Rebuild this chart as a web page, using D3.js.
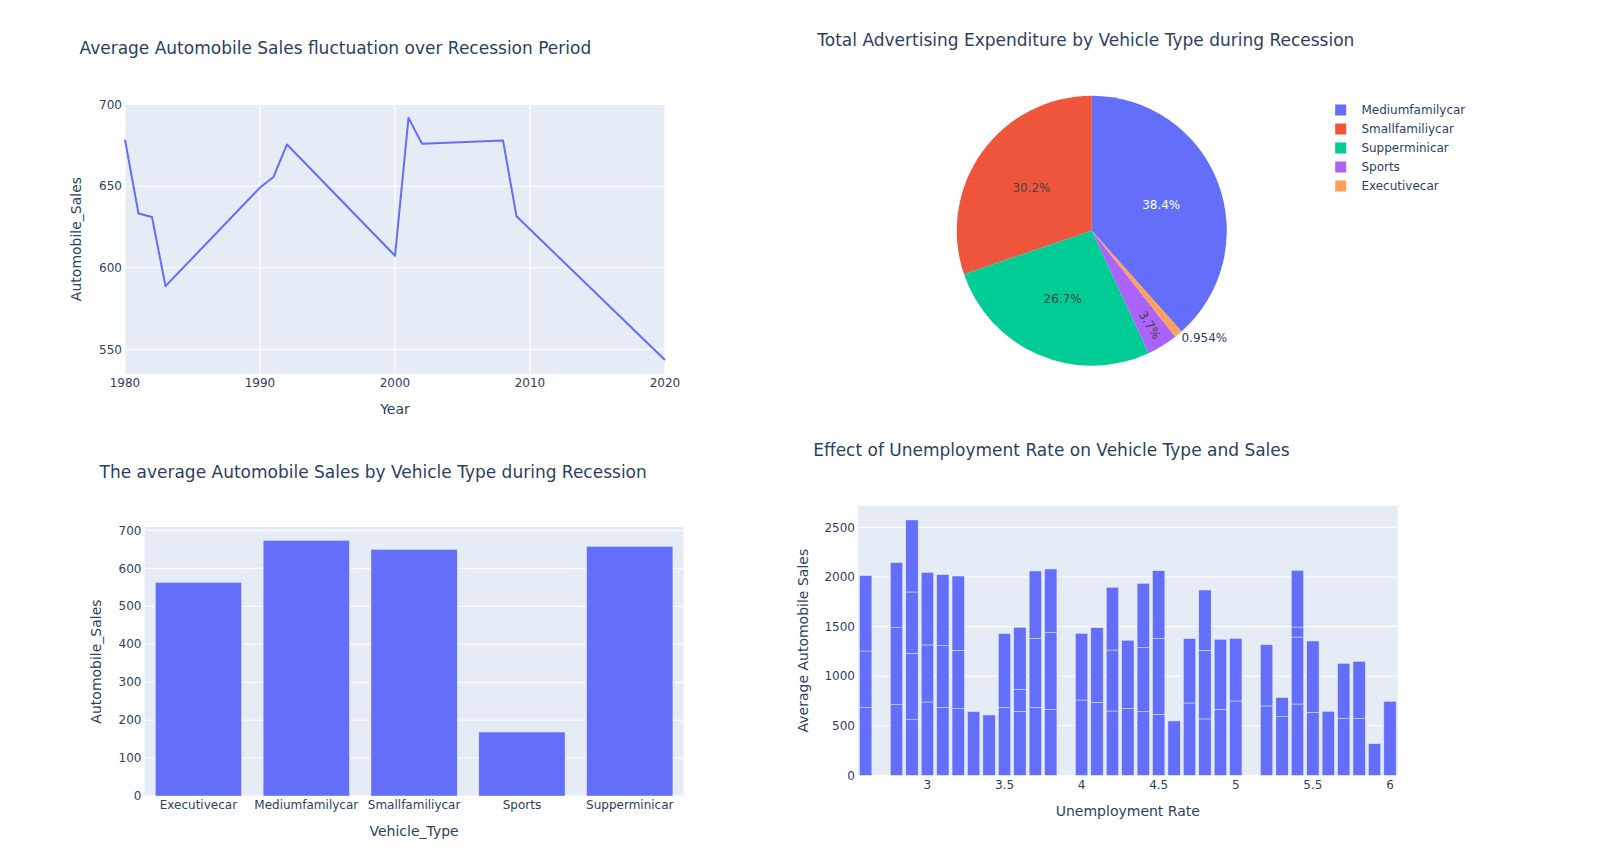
<!DOCTYPE html>
<html><head><meta charset="utf-8">
<script src="https://cdn.jsdelivr.net/npm/d3@7"></script>
<style>body{margin:0;background:#fff}svg{display:block}text{font-family:"DejaVu Sans",Verdana,sans-serif}</style>
</head><body><svg id="c" width="1604" height="858"></svg>
<script>
// ---------- data ----------
const recessionYears = [1980,1981,1982,1983,1990,1991,1992,2000,2001,2002,2008,2009,2020];
const recessionAvgSales = [678.4,633.2,631.1,588.7,649.1,655.6,675.5,607.3,691.8,676.0,678.0,631.5,543.5];
const lineXTicks = [1980,1990,2000,2010,2020];
const lineYTicks = [550,600,650,700];

const pieLabels = ["Mediumfamilycar","Smallfamiliycar","Supperminicar","Sports","Executivecar"];
const pieAdShare = [38.43,30.22,26.70,3.70,0.954];
const pieColors = ["#636EFA","#EF553B","#00CC96","#AB63FA","#FFA15A"];

const vehicleTypes = ["Executivecar","Mediumfamilycar","Smallfamiliycar","Sports","Supperminicar"];
const vehicleAvgSales = [563,673.7,650,168.6,657.8];
const barYTicks = [0,100,200,300,400,500,600,700];

const unemploymentRates = [2.6,2.8,2.9,3.0,3.1,3.2,3.3,3.4,3.5,3.6,3.7,3.8,4.0,4.1,4.2,4.3,4.4,4.5,4.6,4.7,4.8,4.9,5.0,5.2,5.3,5.4,5.5,5.6,5.7,5.8,5.9,6.0];
const salesSegments = [
 [682,571,760],[712,776,656],[561,669,618,726],[739,575,732],[685,622,716],[672,588,749],
 [642],[608],[685,743],[645,219,628],[685,696,679],[662,776,642],
 [759,672],[736,752],[648,615,632],[675,686],[642,645,648],[615,763,685],[548],[729,649],
 [568,692,608],[665,706],[749,632],[699,618],[591,192],[719,675,101,571],[635,719],[645],
 [571,558],[571,578],[319],[746]
];
const stackXTicks = [3,3.5,4,4.5,5,5.5,6];
const stackYTicks = [0,500,1000,1500,2000,2500];

// ---------- styles ----------
const FONT_COLOR = "#2a3f5f", PLOT_BG = "#E5ECF6", BAR = "#636EFA";
const svg = d3.select("#c");
svg.append("rect").attr("width",1604).attr("height",858).attr("fill","#fff");

function title(txt, x, y){
  svg.append("text").attr("x",x).attr("y",y).attr("dy","0.35em")
    .attr("font-size",17).attr("fill",FONT_COLOR).text(txt);
}
function frame(p){
  svg.append("rect").attr("x",p.l).attr("y",p.t).attr("width",p.r-p.l).attr("height",p.b-p.t).attr("fill",PLOT_BG);
}
function yAxis(p, y, ticks, label, labelOffset){
  const g = svg.append("g");
  g.selectAll("line").data(ticks).join("line")
    .attr("x1",p.l).attr("x2",p.r).attr("y1",d=>y(d)).attr("y2",d=>y(d))
    .attr("stroke","#fff").attr("stroke-width",1);
  g.selectAll("text").data(ticks).join("text")
    .attr("x",p.l-3).attr("y",d=>y(d)).attr("dy","0.35em").attr("text-anchor","end")
    .attr("font-size",12).attr("fill",FONT_COLOR).text(d=>d);
  svg.append("text").attr("transform",`translate(${p.l-labelOffset},${(p.t+p.b)/2}) rotate(-90)`)
    .attr("text-anchor","middle").attr("dy","0.35em").attr("font-size",14).attr("fill",FONT_COLOR).text(label);
}
function xLabels(p, pos, ticks, fmt, label){
  svg.append("g").selectAll("text").data(ticks).join("text")
    .attr("x",d=>pos(d)).attr("y",p.b+9).attr("dy","0.35em").attr("text-anchor","middle")
    .attr("font-size",12).attr("fill",FONT_COLOR).text(fmt);
  svg.append("text").attr("x",(p.l+p.r)/2).attr("y",p.b+35.5).attr("dy","0.35em")
    .attr("text-anchor","middle").attr("font-size",14).attr("fill",FONT_COLOR).text(label);
}

// ---------- 1. line chart ----------
{
  const p = {l:125, r:665, t:104, b:374};
  frame(p);
  const x = d3.scaleLinear().domain([1980,2020]).range([p.l,p.r]);
  const y = d3.scaleLinear().domain([534.9,700.3]).range([p.b,p.t]);
  svg.append("g").selectAll("line").data(lineXTicks).join("line")
    .attr("x1",d=>x(d)).attr("x2",d=>x(d)).attr("y1",p.t).attr("y2",p.b).attr("stroke","#fff");
  yAxis(p, y, lineYTicks, "Automobile_Sales", 48.5);
  xLabels(p, x, lineXTicks, d=>d, "Year");
  const line = d3.line().x((d,i)=>x(recessionYears[i])).y(d=>y(d));
  svg.append("path").datum(recessionAvgSales).attr("d",line).attr("fill","none")
    .attr("stroke",BAR).attr("stroke-width",2).attr("stroke-linejoin","round");
  title("Average Automobile Sales fluctuation over Recession Period", 79.5, 48);
}

// ---------- 2. pie chart ----------
{
  const cx = 1091.8, cy = 230.7, R = 135;
  const total = d3.sum(pieAdShare);
  const first = pieAdShare[0]/total*2*Math.PI;
  const pie = d3.pie().sort(null).startAngle(first).endAngle(first-2*Math.PI);
  const arcs = pie(pieAdShare);
  const arc = d3.arc().innerRadius(0).outerRadius(R);
  const g = svg.append("g").attr("transform",`translate(${cx},${cy})`);
  g.selectAll("path").data(arcs).join("path").attr("d",arc).attr("fill",(d,i)=>pieColors[i]);
  const fmt = v => d3.format(".3~r")(v) + "%";
  function textColor(c){ const r=d3.rgb(c); return (r.r*299+r.g*587+r.b*114)/1000 < 128 ? "#fff" : "#444"; }
  arcs.forEach((a,i)=>{
    const span = Math.abs(a.endAngle-a.startAngle);
    const mid = (a.startAngle+a.endAngle)/2;
    const ux = Math.sin(mid), uy = -Math.cos(mid);
    const pct = fmt(a.value/total*100);
    if (span > 0.5){
      g.append("text").attr("x",ux*R*0.55).attr("y",uy*R*0.55).attr("dy","0.35em")
        .attr("text-anchor","middle").attr("font-size",12).attr("fill",textColor(pieColors[i])).text(pct);
    } else if (span > 0.15){
      let deg = ((mid*180/Math.PI) % 360 + 360) % 360 - 90;
      if (deg > 90) deg -= 180;
      g.append("text").attr("transform",`translate(${ux*R*0.82},${uy*R*0.82}) rotate(${deg})`)
        .attr("dy","0.35em").attr("text-anchor","middle").attr("font-size",12)
        .attr("fill",textColor(pieColors[i])).text(pct);
    } else {
      g.append("text").attr("x",ux*R+(ux>=0?3:-3)).attr("y",uy*R+4).attr("dy","0.35em")
        .attr("text-anchor",ux>=0?"start":"end").attr("font-size",12).attr("fill",FONT_COLOR).text(pct);
    }
  });
  const lg = svg.append("g");
  pieLabels.forEach((lab,i)=>{
    const yy = 110 + i*19;
    lg.append("rect").attr("x",1335.2).attr("y",yy-5.5).attr("width",11).attr("height",11).attr("fill",pieColors[i]);
    lg.append("text").attr("x",1361.4).attr("y",yy).attr("dy","0.35em").attr("font-size",12).attr("fill",FONT_COLOR).text(lab);
  });
  title("Total Advertising Expenditure by Vehicle Type during Recession", 817.3, 40);
}

// ---------- 3. bar chart ----------
{
  const p = {l:144.5, r:683.7, t:527, b:796};
  frame(p);
  const x = d3.scaleBand().domain(vehicleTypes).range([p.l,p.r]).paddingInner(0.2).paddingOuter(0.1);
  const y = d3.scaleLinear().domain([0,709]).range([p.b,p.t]);
  yAxis(p, y, barYTicks, "Automobile_Sales", 48.5);
  xLabels(p, d=>x(d)+x.bandwidth()/2, vehicleTypes, d=>d, "Vehicle_Type");
  svg.append("g").selectAll("rect").data(vehicleAvgSales).join("rect")
    .attr("x",(d,i)=>x(vehicleTypes[i])).attr("width",x.bandwidth())
    .attr("y",d=>y(d)).attr("height",d=>y(0)-y(d))
    .attr("fill",BAR).attr("stroke",PLOT_BG).attr("stroke-width",0.5);
  title("The average Automobile Sales by Vehicle Type during Recession", 99.5, 471.7);
}

// ---------- 4. stacked bar chart ----------
{
  const p = {l:858, r:1397.7, t:506, b:775.3};
  frame(p);
  const x = d3.scaleLinear().domain([2.55,6.05]).range([p.l,p.r]);
  const y = d3.scaleLinear().domain([0,2715]).range([p.b,p.t]);
  yAxis(p, y, stackYTicks, "Average Automobile Sales", 55);
  xLabels(p, x, stackXTicks, d=>d, "Unemployment Rate");
  const segs = [];
  unemploymentRates.forEach((r,i)=>{
    let base = 0;
    salesSegments[i].forEach(v=>{ segs.push({r, y0:base, y1:base+v}); base += v; });
  });
  const w = x(0.08) - x(0);
  svg.append("g").selectAll("rect").data(segs).join("rect")
    .attr("x",d=>x(d.r)-w/2).attr("width",w)
    .attr("y",d=>y(d.y1)).attr("height",d=>y(d.y0)-y(d.y1))
    .attr("fill",BAR).attr("stroke",PLOT_BG).attr("stroke-width",0.5);
  title("Effect of Unemployment Rate on Vehicle Type and Sales", 813.2, 450);
}
</script></body></html>
